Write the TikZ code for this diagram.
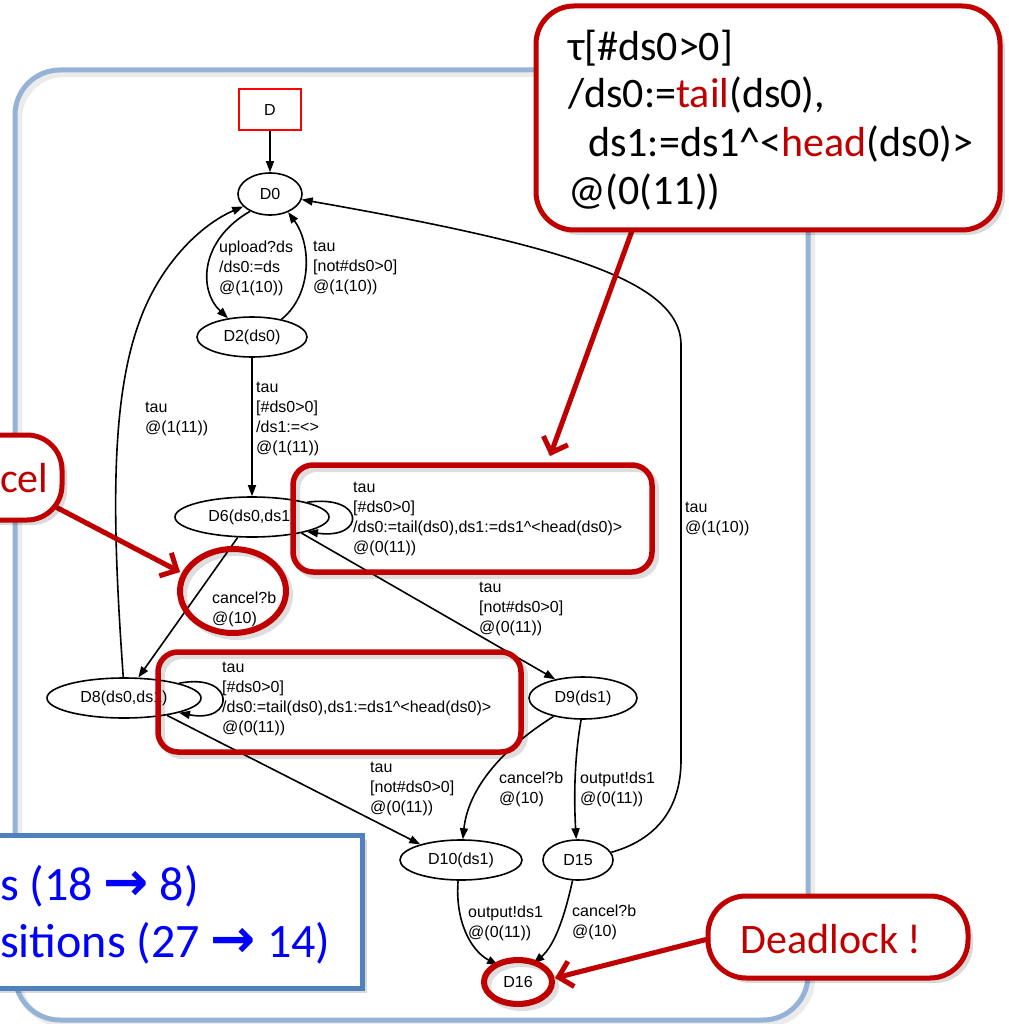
\documentclass[tikz,border=0pt]{standalone}
\usepackage{fontspec}
\setmainfont{Liberation Sans}
\newfontfamily\calfont{Carlito}
\newfontfamily\symfont{DejaVu Sans}
\usetikzlibrary{arrows.meta,shapes.geometric}
\definecolor{callred}{HTML}{C00000}
\definecolor{framebl}{HTML}{95B3D7}
\definecolor{boxbl}{HTML}{4F81BD}
\definecolor{txtbl}{HTML}{0000FF}

\begin{document}
\begin{tikzpicture}[x=1pt,y=-1pt,
  gfont/.style={font=\fontsize{16}{20}\selectfont},
  st/.style={ellipse,draw,line width=1.6pt,inner sep=0pt,gfont},
  edge/.style={draw,line width=1.6pt,-{Triangle[length=11pt,width=8pt]}},
  lbl/.style={anchor=north west,inner sep=0pt,align=left,gfont},
  hlbox/.style={rectangle,draw=callred,line width=5.5pt,rounded corners=20pt,inner sep=0pt},
  hlring/.style={ellipse,draw=callred,line width=6pt,inner sep=0pt},
  callbox/.style={rectangle,draw=callred,line width=5pt,fill=white,inner sep=0pt},
  pointer/.style={draw=callred,line width=5pt,-{Straight Barb[length=13pt,width=26pt]}},
  ghost/.style={draw=black,opacity=.13,line width=6pt,shift={(4,4)}},
  fillghost/.style={fill=black,opacity=.15,shift={(5,5)}},
  calltext/.style={anchor=base west,inner sep=0pt,font=\calfont\fontsize{42}{48}\selectfont},
  bluetext/.style={anchor=base west,inner sep=0pt,text=txtbl,font=\calfont\fontsize{48}{57}\selectfont}]

\newcommand\bigarrow{{\symfont\bfseries\fontsize{54}{57}\selectfont →}}

\useasboundingbox (0,0) rectangle (1008,1024);
\clip (0,0) rectangle (1008,1024);
\fill[white] (0,0) rectangle (1008,1024);

% outer frame
\draw[ghost,opacity=.08,rounded corners=45pt] (15,70) rectangle (808,1020);
\draw[framebl,line width=5pt,rounded corners=45pt] (15,70) rectangle (808,1020);

% states
\node[draw=red,line width=1.5pt,minimum width=62pt,minimum height=41pt,inner sep=0pt,gfont] (D) at (270,109.5) {D};
\node[st,minimum width=64pt,minimum height=42pt] (D0) at (270,194) {D0};
\node[st,minimum width=110pt,minimum height=40pt] (D2) at (252,337) {D2(ds0)};
\node[st,minimum width=154pt,minimum height=40pt] (D6) at (252,517) {D6(ds0,ds1)};
\node[st,minimum width=154pt,minimum height=40pt] (D8) at (124,698) {D8(ds0,ds1)};
\node[st,minimum width=108pt,minimum height=42pt] (D9) at (583,698) {D9(ds1)};
\node[st,minimum width=122pt,minimum height=40pt] (D10) at (461,860) {D10(ds1)};
\node[st,minimum width=70pt,minimum height=40pt] (D15) at (578,860) {D15};
\node[st,minimum width=66pt,minimum height=40pt] (D16) at (518,982) {D16};

% transitions
\draw[edge] (D) -- (D0);
\draw[edge] (D0.221) .. controls (200,240) and (198,290) .. (D2.142);
\draw[edge] (D2.31) .. controls (312,295) and (312,245) .. (D0.315);
\draw[edge] (D2) -- (D6);
\draw[edge] (D8.92) .. controls (112,520) and (110,400) .. (140,320) .. controls (160,265) and (200,225) .. (D0.205);
\draw[edge] (D6.15) .. controls (366,494) and (366,540) .. (D6.345);
\draw[edge] (D6.235) -- (D8.55);
\draw[edge] (D6.342) -- (D9.146);
\draw[edge] (D8.15) .. controls (236,672) and (236,724) .. (D8.345);
\draw[edge] (D8.338) -- (D10.159);
\draw[edge] (D9.212) .. controls (500,750) and (468,790) .. (D10.85);
\draw[edge] (D9.265) .. controls (574,760) and (574,800) .. (D15.95);
\draw[edge] (D15.13) .. controls (655,840) and (681,810) .. (681,760) -- (681,345) .. controls (681,280) and (560,245) .. (D0.350);
\draw[edge] (D10.262) .. controls (455,920) and (470,950) .. (D16.140);
\draw[edge] (D15.255) .. controls (565,915) and (555,945) .. (D16.50);

% transition labels
\node[lbl] (l1) at (219,241) {upload?ds\\/ds0:=ds\\@(1(10))};
\node[lbl] (l2) at (313,241) {tau\\{[}not\#ds0>0]\\@(1(10))};
\node[lbl] (l3) at (256,382) {tau\\{[}\#ds0>0]\\/ds1:=<>\\@(1(11))};
\node[lbl] (l4) at (145,402) {tau\\@(1(11))};
\node[lbl] (l5) at (353,482) {tau\\{[}\#ds0>0]\\/ds0:=tail(ds0),ds1:=ds1\textasciicircum<head(ds0)>\\@(0(11))};
\node[lbl] (l6) at (212,592) {cancel?b\\@(10)};
\node[lbl] (l7) at (479,582) {tau\\{[}not\#ds0>0]\\@(0(11))};
\node[lbl] (l8) at (685,502) {tau\\@(1(10))};
\node[lbl] (l9) at (222,662) {tau\\{[}\#ds0>0]\\/ds0:=tail(ds0),ds1:=ds1\textasciicircum<head(ds0)>\\@(0(11))};
\node[lbl] (l10) at (370,762) {tau\\{[}not\#ds0>0]\\@(0(11))};
\node[lbl] (l11) at (499,772) {cancel?b\\@(10)};
\node[lbl] (l12) at (580,772) {output!ds1\\@(0(11))};
\node[lbl] (l13) at (468,906) {output!ds1\\@(0(11))};
\node[lbl] (l14) at (572,905) {cancel?b\\@(10)};

% red highlights
\draw[ghost,rounded corners=20pt] (293,465) rectangle (652,572);
\node[hlbox,minimum width=359pt,minimum height=107pt] (hb6) at (472.5,518.5) {};
\draw[ghost,rounded corners=20pt] (158,652) rectangle (521,752);
\node[hlbox,minimum width=363pt,minimum height=100pt] (hb8) at (339.5,702) {};
\draw[ghost] (233,591) ellipse [x radius=53, y radius=42];
\node[hlring,minimum width=106pt,minimum height=84pt] (hc) at (233,591) {};
\draw[ghost] (518,982) ellipse [x radius=34, y radius=22];
\node[hlring,minimum width=68pt,minimum height=44pt] (h16) at (518,982) {};

% callout: transition with tail/head
\coordinate (tcfoot) at (633,228);
\coordinate (tcpin) at (550,456);
\draw[ghost,line width=5pt] (tcfoot) -- (tcpin);
\draw[pointer] (tcfoot) -- (tcpin);
\fill[fillghost,rounded corners=38pt] (536,6) rectangle (1000,230);
\node[callbox,rounded corners=38pt,minimum width=464pt,minimum height=224pt] (tc) at (768,118) {};
\node[calltext] (tc1) at (568,61) {τ[\#ds0>0]};
\node[calltext] (tc2) at (568,108) {/ds0:=\textcolor{callred}{tail}(ds0),};
\node[calltext] (tc3) at (588,157) {ds1:=ds1\textasciicircum<\textcolor{callred}{head}(ds0)>};
\node[calltext] (tc4) at (568,205) {@(0(11))};

% callout: cancel
\coordinate (cfoot) at (50,504);
\coordinate (cpin) at (180,572);
\draw[ghost,line width=5pt] (cfoot) -- (cpin);
\draw[pointer] (cfoot) -- (cpin);
\fill[fillghost,rounded corners=35pt] (-80,435) rectangle (62,520);
\node[callbox,rounded corners=35pt,minimum width=142pt,minimum height=85pt] (cc) at (-9,477.5) {};
\node[calltext,text=callred] (cct) at (0,492) {cel};

% callout: deadlock
\coordinate (dfoot) at (712,938);
\coordinate (dpin) at (555,978);
\draw[ghost,line width=5pt] (dfoot) -- (dpin);
\draw[pointer] (dfoot) -- (dpin);
\fill[fillghost,rounded corners=38pt] (708,896) rectangle (968,978);
\node[callbox,rounded corners=38pt,minimum width=260pt,minimum height=82pt] (dc) at (838,937) {};
\node[calltext,anchor=base,text=callred] (dct) at (831,953) {Deadlock !};

% reduction summary
\fill[fillghost] (-20,835) rectangle (362,988);
\node[rectangle,draw=boxbl,line width=5pt,fill=white,inner sep=0pt,minimum width=382pt,minimum height=153pt] (sb) at (171,911.5) {};
\node[bluetext] (sb1) at (0,900) {s (18 \bigarrow{} 8)};
\node[bluetext] (sb2) at (0,957) {sitions (27 \bigarrow{} 14)};
\end{tikzpicture}
\end{document}
